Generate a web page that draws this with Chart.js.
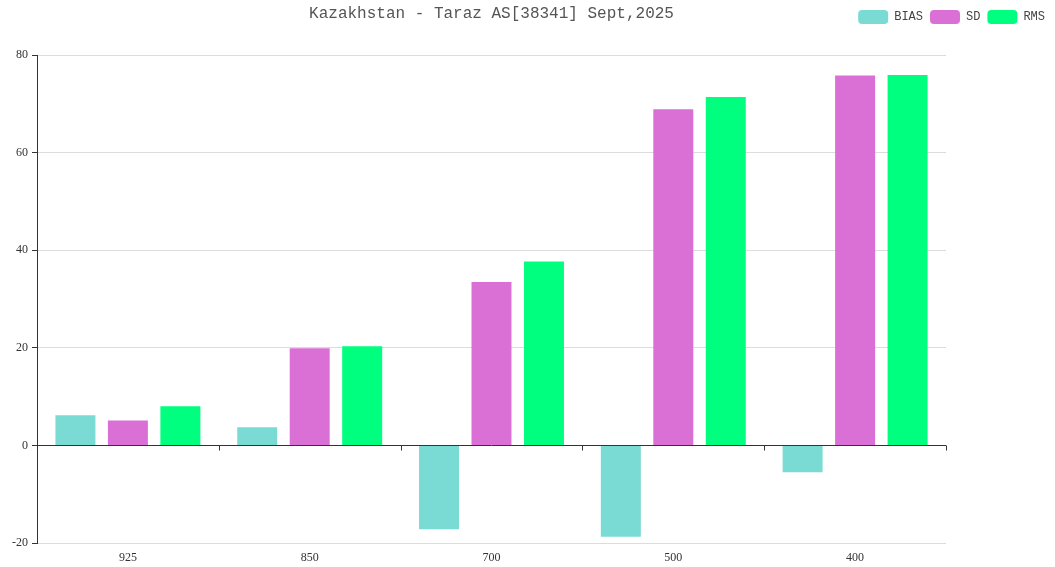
<!DOCTYPE html>
<html><head><meta charset="utf-8">
<script src="https://cdn.jsdelivr.net/npm/chart.js@4.4.1/dist/chart.umd.min.js"></script>
<style>html,body{margin:0;padding:0;background:#fff}#wrap{width:1055px;height:567px}</style>
</head><body><div id="wrap"><canvas id="c" width="1055" height="567"></canvas></div>
<script>
const titleText = 'Kazakhstan - Taraz AS[38341] Sept,2025';
const categories = ['925', '850', '700', '500', '400'];
const biasValues = [6.2, 3.7, -17.2, -18.7, -5.5];
const sdValues = [5.1, 19.9, 33.5, 68.9, 75.8];
const rmsValues = [8.0, 20.3, 37.7, 71.4, 75.9];
const yTicks = { min: -20, max: 80, step: 20 };

const axisPlugin = {
  id: 'axisPlugin',
  afterDatasetsDraw(chart) {
    const ctx = chart.ctx, a = chart.chartArea, y = chart.scales.y;
    const y0 = Math.round(y.getPixelForValue(0)) + 0.5;
    ctx.save();
    ctx.strokeStyle = '#333';
    ctx.lineWidth = 1;
    ctx.beginPath();
    ctx.moveTo(a.left, y0); ctx.lineTo(a.right, y0);
    const n = categories.length;
    for (let i = 0; i <= n; i++) {
      const px = Math.round(a.left + i * (a.right - a.left) / n) + 0.5;
      ctx.moveTo(px, y0); ctx.lineTo(px, y0 + 5);
    }
    ctx.stroke();
    ctx.restore();
  },
  afterDraw(chart) {
    const ctx = chart.ctx, a = chart.chartArea;
    ctx.save();
    ctx.font = '16px "Liberation Mono"';
    ctx.fillStyle = '#555';
    ctx.textAlign = 'center';
    ctx.textBaseline = 'middle';
    ctx.fillText(titleText, (a.left + a.right) / 2, 14);
    ctx.restore();
  }
};

new Chart(document.getElementById('c'), {
  type: 'bar',
  data: {
    labels: categories,
    datasets: [
      { label: 'BIAS', data: biasValues, backgroundColor: '#7adbd4' },
      { label: 'SD', data: sdValues, backgroundColor: '#da70d6' },
      { label: 'RMS', data: rmsValues, backgroundColor: '#00ff7f' }
    ]
  },
  options: {
    responsive: false,
    animation: false,
    devicePixelRatio: 1,
    categoryPercentage: 0.866,
    barPercentage: 0.762,
    layout: { padding: { top: 3, right: 3, left: 0, bottom: 0 } },
    plugins: {
      title: { display: false },
      tooltip: { enabled: false },
      legend: {
        position: 'top', align: 'end',
        labels: {
          boxWidth: 30, boxHeight: 14, useBorderRadius: true, borderRadius: 4,
          padding: 7, color: '#444',
          font: { family: '"Liberation Mono"', size: 12 }
        }
      }
    },
    scales: {
      x: {
        grid: { display: false, drawTicks: false },
        border: { display: false },
        ticks: { color: '#333', padding: 8, font: { family: '"Liberation Serif"', size: 12 } },
        afterFit(s) { s.height = 24; }
      },
      x2: {
        type: 'category', labels: categories, position: 'top', display: true,
        grid: { display: false, drawTicks: false },
        border: { display: false },
        ticks: { display: false },
        afterFit(s) { s.height = 21; }
      },
      y: {
        min: yTicks.min, max: yTicks.max,
        ticks: { stepSize: yTicks.step, color: '#333', padding: 4, font: { family: '"Liberation Serif"', size: 12 } },
        grid: {
          color: (c) => (c.tick && c.tick.value === 0) ? 'rgba(0,0,0,0)' : '#dcdcdc',
          tickColor: '#333', tickLength: 5
        },
        border: { display: true, color: '#333', width: 1 },
        afterFit(s) { s.width = 37; }
      },
      y2: {
        position: 'right', display: true,
        grid: { display: false, drawTicks: false },
        border: { display: false },
        ticks: { display: false },
        afterFit(s) { s.width = 106; }
      }
    }
  },
  plugins: [axisPlugin]
});
</script></body></html>
